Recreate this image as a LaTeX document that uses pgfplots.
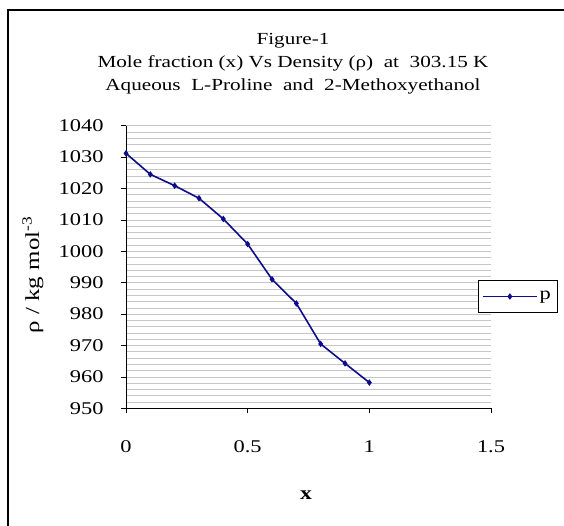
\documentclass[border=0pt]{standalone}
\usepackage{pgfplots}
\pgfplotsset{compat=1.18}
\usepackage{fontspec}
\setmainfont{Liberation Serif}[FakeStretch=1.25]

\definecolor{lineblue}{rgb}{0.05,0.05,0.55}

\begin{document}
\begin{tikzpicture}[x=1bp,y=1bp]
\useasboundingbox (0,0) rectangle (564,-526);
\fill[white] (0,0) rectangle (564,-526);
\draw[line width=1.6bp] (8,-534) -- (8,-10) -- (572,-10);

% chart title
\node[font=\fontsize{17}{20}\selectfont] at (293,-41) {Figure-1};
\node[font=\fontsize{17}{20}\selectfont] at (293,-63) {Mole fraction (x) Vs Density (ρ)~ at~ 303.15 K};
\node[font=\fontsize{17}{20}\selectfont] at (293,-86) {Aqueous~ L-Proline~ and~ 2-Methoxyethanol};

\begin{axis}[
    at={(126bp,-408.3bp)},
    anchor=south west,
    width=365bp,
    height=282.6bp,
    scale only axis,
    axis lines=left,
    axis line style={black, line width=0.8bp, -},
    xmin=0, xmax=1.5,
    ymin=950, ymax=1040,
    xtick={0,0.5,1,1.5},
    ytick={950,960,...,1040},
    minor y tick num=4,
    ymajorgrids, yminorgrids,
    major grid style={gray!45, line width=0.6bp},
    minor grid style={gray!45, line width=0.6bp},
    tick align=outside,
    major tick length=5bp,
    minor tick length=0pt,
    tick style={black, line width=0.8bp},
    /pgf/number format/assume math mode=true,
    /pgf/number format/.cd, use period, 1000 sep={},
    /pgfplots/.cd,
    tick label style={font=\fontsize{18}{21}\selectfont},
    xticklabel style={yshift=-24bp},
    yticklabel style={xshift=-14bp},
    xlabel={\textbf{x}},
    xlabel style={font=\fontsize{19}{22}\selectfont, at={(0.493,-0.307)}, anchor=center},
    ylabel={ρ / kg mol\textsuperscript{-3}},
    ylabel style={font=\fontsize{20}{23}\selectfont, at={(-0.255,0.472)}, anchor=center},
    legend style={at={(1.0726,0.3956)}, anchor=center, draw=black, line width=0.8bp,
        font=\fontsize{18}{21}\selectfont, inner xsep=4bp, inner ysep=9bp},
    legend image code/.code={\draw[#1, mark repeat=2, mark phase=2]
        plot coordinates {(0bp,0bp) (27bp,0bp) (54bp,0bp)};},
]
\addplot[color=lineblue, line width=1.6bp, mark=diamond*, mark size=2bp,
    mark options={solid, fill=lineblue}]
table {
    0.0 1031.2
    0.1 1024.5
    0.2 1020.9
    0.3 1016.9
    0.4 1010.3
    0.5 1002.3
    0.6 991.1
    0.7 983.4
    0.8 970.5
    0.9 964.3
    1.0 958.2
};
\addlegendentry{p}
\end{axis}
\end{tikzpicture}
\end{document}
